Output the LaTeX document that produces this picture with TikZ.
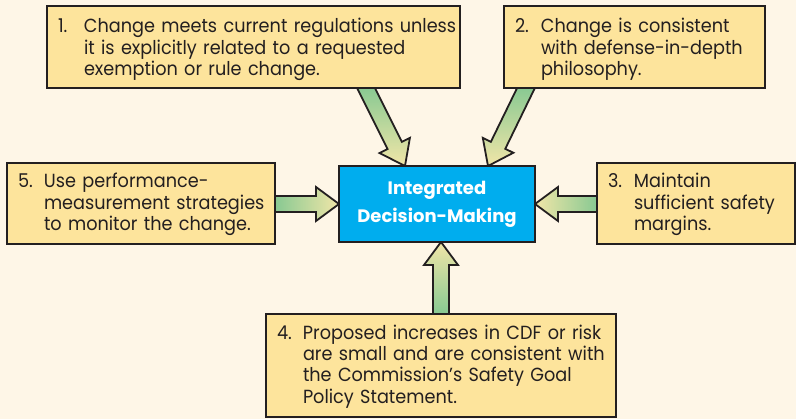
\documentclass[tikz,border=0pt]{standalone}
\usepackage{fontspec}
\setmainfont{Poppins}[FakeStretch=0.93]
\newfontfamily\cfont{Poppins}
\usetikzlibrary{calc}
\definecolor{bgc}{HTML}{FEF6E7}
\definecolor{boxc}{HTML}{FDE49C}
\definecolor{cbl}{HTML}{00ADEE}
\definecolor{lnc}{HTML}{231F20}
\definecolor{agr}{HTML}{7EC690}
\definecolor{ayl}{HTML}{F1E6A8}
\pgfdeclarelayer{bg}
\pgfdeclarelayer{arr}
\pgfsetlayers{bg,arr,main}
\newcommand\blockarrow[3]{%
  \path ($(#1)!-6pt!(#2)$) coordinate (ta)
        ($(#2)!23pt!(#1)$) coordinate (bh);
  \draw[arrowsty,#3] ($(ta)!8pt!90:(#2)$) -- ($(bh)!8pt!-90:(ta)$) -- ($(bh)!17pt!-90:(ta)$) -- (#2) -- ($(bh)!17pt!90:(ta)$) -- ($(bh)!8pt!90:(ta)$) -- ($(ta)!8pt!-90:(#2)$) -- cycle;}
\newcommand\numitem[3]{\noindent\begin{tabular}{@{}p{26pt}@{}l@{}}\rule{0pt}{#1}#2&#3\end{tabular}}
\begin{document}
\begin{tikzpicture}[x=1pt,y=-1pt,
  itembox/.style={draw=lnc, fill=boxc, line width=1.8pt, inner xsep=11pt, inner ysep=0pt, outer sep=0pt, align=left, font=\fontsize{19}{21.3}\selectfont, text=lnc},
  centerbox/.style={draw=lnc, fill=cbl, line width=1.8pt, inner sep=0pt, outer sep=0pt, text=white, align=center, font=\cfont\bfseries\fontsize{18}{28}\selectfont},
  arrowsty/.style={draw=lnc, line width=1.8pt, line join=miter}]
\useasboundingbox (0,0) rectangle (796,419);
\begin{pgfonlayer}{bg}
\fill[bgc] (0,0) rectangle (796,419);
\end{pgfonlayer}
\node[itembox, text width=391pt, minimum height=82pt] (b1) at (253.5,47)
  {\numitem{20.9pt}{1.}{Change meets current regulations unless\\&it is explicitly related to a requested\\&exemption or rule change.}};
\node[itembox, text width=239pt, minimum height=82pt] (b2) at (634.5,47)
  {\numitem{20.9pt}{2.}{Change is consistent\\&with defense-in-depth\\&philosophy.}};
\node[itembox, text width=246pt, minimum height=81pt] (b5) at (141,203.5)
  {\numitem{17.9pt}{5.}{Use performance-\\&measurement strategies\\&to monitor the change.}};
\node[itembox, text width=176pt, minimum height=81pt] (b3) at (696,203.5)
  {\numitem{17.9pt}{3.}{Maintain\\&sufficient safety\\&margins.}};
\node[itembox, text width=328pt, minimum height=103pt] (b4) at (441,365.5)
  {\numitem{17.9pt}{4.}{Proposed increases in CDF or risk\\&are small and are consistent with\\&the Commission’s Safety Goal\\&Policy Statement.}};
\node[centerbox, minimum width=196pt, minimum height=76pt] (c) at (437,204) {Integrated\\Decision-Making};
\coordinate (t1) at ($(b1.south)+(112.5,0)$);
\coordinate (h1) at ($(c.north)+(-32,0)$);
\coordinate (t2) at ($(b2.south)+(-108.5,0)$);
\coordinate (h2) at ($(c.north)+(51,0)$);
\coordinate (t5) at (b5.east |- c.west);
\coordinate (t3) at (b3.west |- c.east);
\coordinate (t4) at (b4.north);
\coordinate (h4) at (c.south -| b4.north);
\begin{pgfonlayer}{arr}
\blockarrow{t1}{h1}{top color=agr, bottom color=ayl}
\blockarrow{t2}{h2}{top color=agr, bottom color=ayl}
\blockarrow{t5}{c.west}{left color=agr, right color=ayl}
\blockarrow{t3}{c.east}{left color=ayl, right color=agr}
\blockarrow{t4}{h4}{top color=ayl, bottom color=agr}
\end{pgfonlayer}
\end{tikzpicture}
\end{document}
